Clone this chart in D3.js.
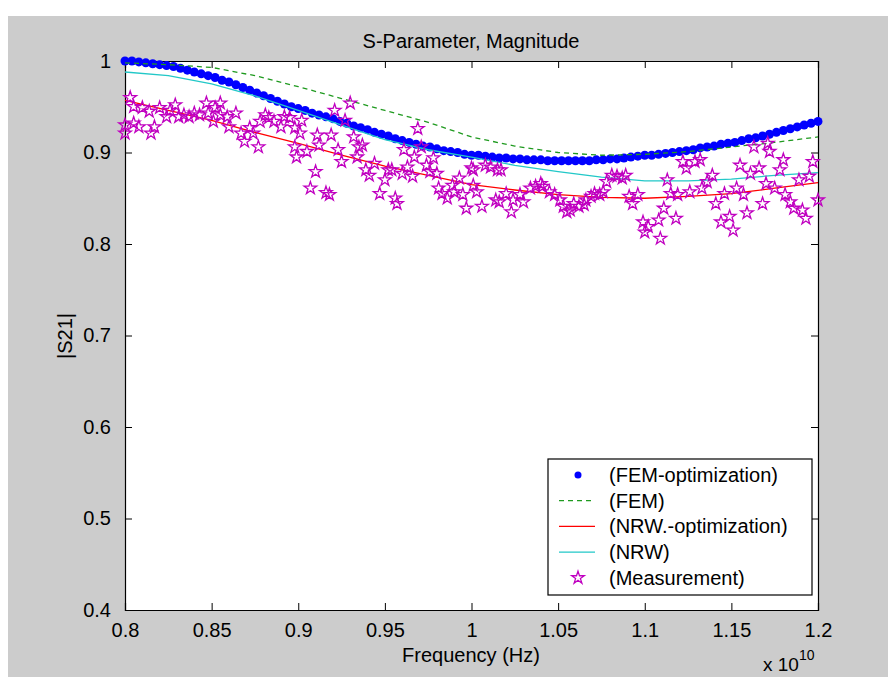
<!DOCTYPE html>
<html>
<head>
<meta charset="utf-8">
<script src="https://cdn.jsdelivr.net/npm/d3@7"></script>
<style>
    body { margin: 0; background: #ffffff; }
    text { font-family: "Liberation Sans", Arial, sans-serif; fill: #000; }
</style>
</head>
<body>
<div id="chart"></div>
<script>
// Frequency grid of the FEM-optimization result (x 10^10 Hz)
let optFreq = d3.range(0, 101).map(function (i) { return +(0.8 + i * 0.004).toFixed(3) });
let optValues = [
    1.000, 1.000, 0.999, 0.998, 0.997, 0.996, 0.995, 0.994, 0.992, 0.990,
    0.988, 0.986, 0.984, 0.982, 0.979, 0.977, 0.974, 0.971, 0.968, 0.965,
    0.962, 0.959, 0.956, 0.953, 0.950, 0.948, 0.946, 0.943, 0.941, 0.939,
    0.937, 0.934, 0.932, 0.929, 0.927, 0.925, 0.922, 0.920, 0.918, 0.915,
    0.913, 0.911, 0.909, 0.907, 0.906, 0.904, 0.902, 0.901, 0.900, 0.898,
    0.897, 0.897, 0.896, 0.895, 0.894, 0.894, 0.893, 0.893, 0.892, 0.892,
    0.892, 0.891, 0.891, 0.891, 0.891, 0.891, 0.891, 0.891, 0.892, 0.892,
    0.893, 0.893, 0.894, 0.895, 0.896, 0.897, 0.897, 0.898, 0.899, 0.900,
    0.901, 0.902, 0.903, 0.905, 0.906, 0.907, 0.909, 0.910, 0.911, 0.913,
    0.915, 0.916, 0.918, 0.920, 0.922, 0.924, 0.926, 0.928, 0.930, 0.932,
    0.934
];

// Frequencies used by the three line series
let lineFreq = [0.800, 0.825, 0.850, 0.875, 0.900, 0.925, 0.950, 0.975, 1.000,
    1.025, 1.050, 1.075, 1.100, 1.125, 1.150, 1.175, 1.200];
let femValues = [0.998, 0.996, 0.993, 0.984, 0.972, 0.959, 0.946, 0.933, 0.917,
    0.907, 0.900, 0.897, 0.898, 0.901, 0.906, 0.911, 0.917];
let nrwOptValues = [0.957, 0.946, 0.935, 0.922, 0.910, 0.897, 0.885, 0.875, 0.865,
    0.859, 0.854, 0.851, 0.850, 0.852, 0.855, 0.861, 0.867];
let nrwValues = [0.988, 0.984, 0.975, 0.962, 0.946, 0.930, 0.914, 0.903, 0.895,
    0.886, 0.879, 0.873, 0.869, 0.869, 0.871, 0.875, 0.878];

// Measured points
let measFreq = [
    0.800, 0.800, 0.803, 0.805, 0.805, 0.808, 0.810, 0.814, 0.815, 0.817,
    0.820, 0.824, 0.826, 0.829, 0.831, 0.834, 0.837, 0.840, 0.843, 0.847,
    0.848, 0.851, 0.852, 0.855, 0.855, 0.859, 0.860, 0.864, 0.867, 0.869,
    0.872, 0.874, 0.877, 0.878, 0.881, 0.883, 0.886, 0.890, 0.892, 0.895,
    0.898, 0.899, 0.898, 0.901, 0.902, 0.905, 0.907, 0.910, 0.911, 0.912,
    0.916, 0.918, 0.919, 0.921, 0.923, 0.925, 0.927, 0.930, 0.932, 0.934,
    0.935, 0.937, 0.939, 0.941, 0.944, 0.947, 0.950, 0.952, 0.954, 0.956,
    0.957, 0.960, 0.961, 0.963, 0.966, 0.967, 0.969, 0.971, 0.974, 0.976,
    0.978, 0.980, 0.981, 0.983, 0.986, 0.989, 0.990, 0.993, 0.995, 0.997,
    1.000, 1.001, 1.001, 1.003, 1.006, 1.008, 1.011, 1.014, 1.015, 1.016,
    1.017, 1.020, 1.023, 1.024, 1.028, 1.030, 1.034, 1.037, 1.040, 1.041,
    1.045, 1.048, 1.051, 1.053, 1.055, 1.057, 1.059, 1.062, 1.065, 1.066,
    1.069, 1.071, 1.074, 1.076, 1.078, 1.081, 1.084, 1.087, 1.089, 1.091,
    1.093, 1.096, 1.099, 1.100, 1.102, 1.108, 1.109, 1.111, 1.113, 1.115,
    1.118, 1.119, 1.122, 1.124, 1.126, 1.129, 1.132, 1.133, 1.136, 1.139,
    1.141, 1.144, 1.146, 1.149, 1.151, 1.153, 1.155, 1.157, 1.159, 1.161,
    1.163, 1.166, 1.168, 1.170, 1.171, 1.172, 1.175, 1.178, 1.180, 1.181,
    1.184, 1.186, 1.189, 1.191, 1.193, 1.195, 1.197, 1.200
];
let measValues = [
    0.930, 0.921, 0.960, 0.950, 0.932, 0.928, 0.949, 0.945, 0.921, 0.928,
    0.949, 0.939, 0.946, 0.952, 0.939, 0.941, 0.939, 0.943, 0.941, 0.954,
    0.943, 0.934, 0.949, 0.954, 0.941, 0.939, 0.928, 0.943, 0.921, 0.912,
    0.927, 0.921, 0.906, 0.934, 0.941, 0.938, 0.934, 0.928, 0.939, 0.938,
    0.906, 0.895, 0.927, 0.921, 0.935, 0.901, 0.861, 0.879, 0.919, 0.908,
    0.856, 0.854, 0.919, 0.946, 0.903, 0.890, 0.935, 0.954, 0.917, 0.895,
    0.906, 0.908, 0.881, 0.875, 0.888, 0.855, 0.870, 0.881, 0.881, 0.850,
    0.844, 0.877, 0.903, 0.884, 0.874, 0.895, 0.926, 0.906, 0.886, 0.879,
    0.894, 0.877, 0.861, 0.855, 0.850, 0.864, 0.857, 0.872, 0.854, 0.839,
    0.883, 0.864, 0.881, 0.857, 0.841, 0.886, 0.884, 0.848, 0.881, 0.846,
    0.881, 0.855, 0.835, 0.848, 0.854, 0.846, 0.861, 0.863, 0.866, 0.863,
    0.857, 0.854, 0.848, 0.841, 0.835, 0.837, 0.844, 0.841, 0.843, 0.848,
    0.852, 0.855, 0.854, 0.857, 0.868, 0.875, 0.874, 0.872, 0.875, 0.852,
    0.844, 0.854, 0.824, 0.813, 0.819, 0.826, 0.806, 0.839, 0.870, 0.855,
    0.828, 0.854, 0.890, 0.883, 0.857, 0.890, 0.892, 0.861, 0.868, 0.875,
    0.844, 0.824, 0.855, 0.830, 0.815, 0.861, 0.886, 0.854, 0.834, 0.877,
    0.906, 0.883, 0.844, 0.866, 0.910, 0.901, 0.861, 0.881, 0.892, 0.854,
    0.846, 0.839, 0.870, 0.837, 0.828, 0.874, 0.890, 0.848
];

let xTicks = [0.8, 0.85, 0.9, 0.95, 1, 1.05, 1.1, 1.15, 1.2];
let yTicks = [0.4, 0.5, 0.6, 0.7, 0.8, 0.9, 1];
let legendLabels = ["(FEM-optimization)", "(FEM)", "(NRW.-optimization)", "(NRW)", "(Measurement)"];

let W = 888, H = 677;
let plotLeft = 125, plotRight = 818, plotTop = 61, plotBottom = 610;

let svg = d3.select("#chart").append("svg")
    .attr("width", W)
    .attr("height", H);

// Gray figure background
svg.append("rect")
    .attr("x", 8).attr("y", 16)
    .attr("width", W - 8).attr("height", H - 16)
    .attr("fill", "#cccccc");

// White axes area
svg.append("rect")
    .attr("x", plotLeft).attr("y", plotTop)
    .attr("width", plotRight - plotLeft).attr("height", plotBottom - plotTop)
    .attr("fill", "#ffffff");

let x = d3.scaleLinear().domain([0.8, 1.2]).range([plotLeft, plotRight]);
let y = d3.scaleLinear().domain([0.4, 1]).range([plotBottom, plotTop]);

// Axes with inward ticks on all four sides
let fmt = function (d) { return String(+d.toFixed(2)) };
svg.append("g")
    .attr("transform", "translate(0," + plotBottom + ")")
    .call(d3.axisBottom(x).tickValues(xTicks).tickSize(-7).tickPadding(13).tickFormat(fmt));
svg.append("g")
    .attr("transform", "translate(0," + plotTop + ")")
    .call(d3.axisTop(x).tickValues(xTicks).tickSize(-7).tickFormat(""));
svg.append("g")
    .attr("transform", "translate(" + plotLeft + ",0)")
    .call(d3.axisLeft(y).tickValues(yTicks).tickSize(-7).tickPadding(14).tickFormat(fmt));
svg.append("g")
    .attr("transform", "translate(" + plotRight + ",0)")
    .call(d3.axisRight(y).tickValues(yTicks).tickSize(-7).tickFormat(""));

svg.selectAll(".domain").attr("stroke", "#000").attr("stroke-width", 1.2);
svg.selectAll(".tick line").attr("stroke", "#000");
svg.selectAll(".tick text").attr("font-size", 20).attr("fill", "#000")
    .attr("font-family", "Liberation Sans, Arial, sans-serif");

// FEM-optimization dots
svg.append("g").selectAll("circle")
    .data(optFreq)
    .enter()
    .append("circle")
    .attr("cx", function (d) { return x(d) })
    .attr("cy", function (d, i) { return y(optValues[i]) })
    .attr("r", 4.5)
    .attr("fill", "#0000ff");

let line = function (vals) {
    return d3.line()
        .x(function (d) { return x(d) })
        .y(function (d, i) { return y(vals[i]) })(lineFreq);
};

// FEM dashed line
svg.append("path")
    .attr("d", line(femValues))
    .attr("fill", "none").attr("stroke", "#1f9a1f")
    .attr("stroke-width", 1.3).attr("stroke-dasharray", "5,4");

// NRW optimization
svg.append("path")
    .attr("d", line(nrwOptValues))
    .attr("fill", "none").attr("stroke", "#ff0000").attr("stroke-width", 1.3);

// NRW
svg.append("path")
    .attr("d", line(nrwValues))
    .attr("fill", "none").attr("stroke", "#22c8c8").attr("stroke-width", 1.3);

// Measurement stars
let star = d3.symbol().type(d3.symbolStar).size(50);
svg.append("g").selectAll("path")
    .data(measFreq)
    .enter()
    .append("path")
    .attr("d", star)
    .attr("transform", function (d, i) {
        return "translate(" + x(d) + "," + y(measValues[i]) + ")"
    })
    .attr("fill", "none")
    .attr("stroke", "#c000c0")
    .attr("stroke-width", 1.3);

// Legend
let lg = svg.append("g");
lg.append("rect")
    .attr("x", 548).attr("y", 459)
    .attr("width", 264).attr("height", 136)
    .attr("fill", "#fff").attr("stroke", "#000").attr("stroke-width", 1.2);

let rowY = function (i) { return 475 + i * 25.7 };
lg.selectAll("text.lab")
    .data(legendLabels)
    .enter()
    .append("text")
    .attr("x", 609)
    .attr("y", function (d, i) { return rowY(i) + 7 })
    .attr("font-size", 20)
    .text(function (d) { return d });

lg.append("circle").attr("cx", 578).attr("cy", rowY(0)).attr("r", 3.5).attr("fill", "#0000ff");
lg.append("line").attr("x1", 559).attr("x2", 595).attr("y1", rowY(1)).attr("y2", rowY(1))
    .attr("stroke", "#1f9a1f").attr("stroke-width", 1.3).attr("stroke-dasharray", "5,4");
lg.append("line").attr("x1", 559).attr("x2", 595).attr("y1", rowY(2)).attr("y2", rowY(2))
    .attr("stroke", "#ff0000").attr("stroke-width", 1.3);
lg.append("line").attr("x1", 559).attr("x2", 595).attr("y1", rowY(3)).attr("y2", rowY(3))
    .attr("stroke", "#22c8c8").attr("stroke-width", 1.3);
lg.append("path").attr("d", star)
    .attr("transform", "translate(578," + rowY(4) + ")")
    .attr("fill", "none").attr("stroke", "#c000c0").attr("stroke-width", 1.3);

// Title and axis labels
svg.append("text")
    .attr("x", 471).attr("y", 48)
    .attr("text-anchor", "middle")
    .attr("font-size", 20)
    .text("S-Parameter, Magnitude");

svg.append("text")
    .attr("x", 471).attr("y", 662)
    .attr("text-anchor", "middle")
    .attr("font-size", 20)
    .text("Frequency (Hz)");

svg.append("text")
    .attr("transform", "translate(72,336) rotate(-90)")
    .attr("text-anchor", "middle")
    .attr("font-size", 20)
    .text("|S21|");

let expo = svg.append("text")
    .attr("x", 763).attr("y", 671)
    .attr("font-size", 19);
expo.append("tspan").text("x 10");
expo.append("tspan").attr("dy", -11).attr("font-size", 14).text("10");
</script>
</body>
</html>
